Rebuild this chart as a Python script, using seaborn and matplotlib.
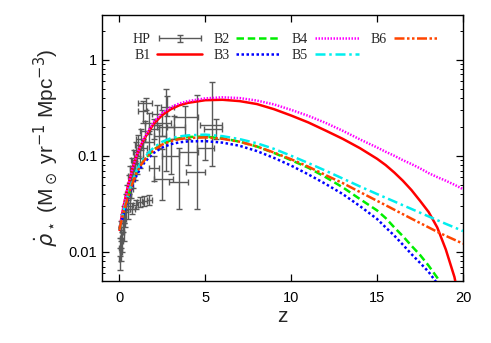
import numpy as np
import pandas as pd
import seaborn as sns
import matplotlib.pyplot as plt
from matplotlib.ticker import FixedLocator, FixedFormatter, LogLocator, NullFormatter
from matplotlib.legend_handler import HandlerErrorbar

# model curves
z_model = [0, 0.25, 0.5, 0.75, 1, 1.25, 1.5, 2, 2.5, 3, 3.5, 4, 5, 6, 7, 8, 9, 10,
           11, 12, 13, 14, 15, 15.5, 16, 16.5, 17, 17.5, 18, 18.5, 19, 19.5, 20]
b1 = [0.017, 0.03, 0.048, 0.072, 0.1, 0.128, 0.155, 0.215, 0.265, 0.305, 0.335, 0.355, 0.378, 0.382,
      0.37, 0.345, 0.305, 0.262, 0.222, 0.183, 0.15, 0.12, 0.093, 0.08, 0.067, 0.055, 0.044, 0.034,
      0.026, 0.018, 0.0106, 0.0055, 0.002]
b2 = [0.017, 0.026, 0.037, 0.051, 0.066, 0.08, 0.093, 0.116, 0.133, 0.145, 0.152, 0.157, 0.158, 0.152,
      0.14, 0.125, 0.107, 0.09, 0.075, 0.06, 0.047, 0.0355, 0.027, 0.0225, 0.018, 0.0146, 0.0116,
      0.0093, 0.0072, 0.0054, 0.0036, 0.002, 0.001]
b3 = [0.017, 0.025, 0.035, 0.048, 0.062, 0.075, 0.087, 0.107, 0.122, 0.132, 0.138, 0.141, 0.142, 0.137,
      0.127, 0.112, 0.095, 0.079, 0.064, 0.051, 0.04, 0.030, 0.022, 0.018, 0.0148, 0.0119, 0.0095,
      0.0077, 0.0062, 0.0047, 0.003, 0.0018, 0.001]
b4 = [0.017, 0.03, 0.048, 0.072, 0.1, 0.13, 0.16, 0.225, 0.28, 0.32, 0.35, 0.37, 0.395, 0.405,
      0.398, 0.375, 0.342, 0.3, 0.26, 0.22, 0.182, 0.148, 0.122, 0.11, 0.1, 0.09, 0.082, 0.074, 0.066,
      0.06, 0.055, 0.05, 0.045]
b5 = [0.017, 0.027, 0.039, 0.054, 0.07, 0.085, 0.098, 0.122, 0.14, 0.152, 0.159, 0.163, 0.166, 0.16,
      0.149, 0.135, 0.118, 0.1, 0.084, 0.07, 0.058, 0.048, 0.04, 0.0366, 0.0335, 0.0306, 0.028,
      0.0256, 0.0234, 0.0214, 0.0196, 0.018, 0.0165]
b6 = [0.017, 0.026, 0.037, 0.051, 0.066, 0.08, 0.092, 0.114, 0.131, 0.142, 0.149, 0.153, 0.155, 0.15,
      0.14, 0.125, 0.108, 0.092, 0.077, 0.063, 0.052, 0.042, 0.034, 0.0306, 0.0275, 0.0247, 0.0222,
      0.02, 0.018, 0.0162, 0.0147, 0.0134, 0.0122]

# HP compilation points
hp_z = [0.02, 0.05, 0.07, 0.1, 0.12, 0.15, 0.2, 0.25, 0.3, 0.35, 0.4, 0.45, 0.5, 0.55, 0.6, 0.65,
        0.7, 0.75, 0.8, 0.85, 0.9, 1.0, 1.05, 1.1, 1.2, 1.25, 1.35, 1.4, 1.5, 1.55, 1.7, 1.75, 2.0,
        2.2, 2.3, 2.5, 2.8, 0.95, 1.2, 1.45, 1.75, 0.75, 2.5, 3.5, 4.5, 3.2, 3.8, 4.0, 5.4, 5.0, 5.6,
        3.0, 2.0, 2.7]
hp_rho = [0.0085, 0.011, 0.014, 0.010, 0.017, 0.013, 0.02, 0.016, 0.025, 0.022, 0.032, 0.04, 0.028,
          0.05, 0.038, 0.062, 0.045, 0.075, 0.058, 0.09, 0.07, 0.11, 0.082, 0.13, 0.095, 0.15, 0.29,
          0.12, 0.18, 0.35, 0.14, 0.22, 0.19, 0.27, 0.16, 0.22, 0.32, 0.031, 0.033, 0.034, 0.035, 0.028,
          0.058, 0.053, 0.068, 0.2, 0.25, 0.11, 0.21, 0.12, 0.19, 0.1, 0.075, 0.2]
hp_rho_lo = [0.0065, 0.009, 0.011, 0.008, 0.014, 0.010, 0.016, 0.013, 0.02, 0.018, 0.026, 0.032, 0.022,
             0.04, 0.03, 0.05, 0.036, 0.06, 0.046, 0.07, 0.056, 0.085, 0.065, 0.1, 0.075, 0.115, 0.22,
             0.095, 0.14, 0.3, 0.11, 0.17, 0.15, 0.21, 0.12, 0.16, 0.26, 0.028, 0.029, 0.03, 0.031,
             0.025, 0.035, 0.028, 0.028, 0.15, 0.16, 0.08, 0.078, 0.09, 0.15, 0.065, 0.055, 0.07]
hp_rho_hi = [0.011, 0.014, 0.018, 0.013, 0.021, 0.016, 0.025, 0.02, 0.03, 0.027, 0.04, 0.05, 0.035,
             0.063, 0.048, 0.078, 0.057, 0.095, 0.073, 0.115, 0.088, 0.14, 0.1, 0.165, 0.12, 0.19, 0.37,
             0.15, 0.23, 0.4, 0.18, 0.28, 0.24, 0.34, 0.21, 0.3, 0.42, 0.035, 0.037, 0.038, 0.039, 0.032,
             0.117, 0.12, 0.43, 0.26, 0.33, 0.15, 0.58, 0.16, 0.24, 0.15, 0.1, 0.5]
hp_z_lo = [0.0, 0.0, 0.02, 0.05, 0.05, 0.1, 0.1, 0.2, 0.2, 0.3, 0.3, 0.35, 0.4, 0.45, 0.5, 0.5, 0.6,
           0.6, 0.7, 0.7, 0.8, 0.8, 0.9, 0.9, 1.0, 1.0, 1.1, 1.2, 1.2, 1.1, 1.4, 1.5, 1.7, 1.9, 2.0,
           2.0, 2.4, 0.8, 1.05, 1.3, 1.6, 0.6, 2.0, 2.9, 3.9, 2.8, 3.2, 3.5, 4.7, 4.5, 4.9, 2.5, 1.7, 2.2]
hp_z_hi = [0.05, 0.1, 0.12, 0.15, 0.2, 0.2, 0.3, 0.3, 0.4, 0.4, 0.5, 0.55, 0.6, 0.65, 0.7, 0.8, 0.8,
           0.9, 0.9, 1.0, 1.0, 1.2, 1.2, 1.3, 1.4, 1.5, 1.6, 1.6, 1.8, 1.9, 2.0, 2.0, 2.3, 2.5, 2.7,
           3.0, 3.2, 1.1, 1.35, 1.6, 1.9, 0.9, 3.1, 4.0, 5.0, 3.8, 4.6, 4.6, 6.0, 5.5, 6.0, 3.5, 2.3, 3.2]

sns.set_theme(style='white')
plt.rcParams['font.family'] = ['Liberation Sans', 'DejaVu Sans']
plt.rcParams['mathtext.fontset'] = 'dejavusans'

fig = plt.figure(figsize=(4.91, 3.43), dpi=100)
ax = fig.add_axes([0.208, 0.181, 0.735, 0.775])

hp = pd.DataFrame({'z': hp_z, 'rho': hp_rho})
yerr = [np.array(hp_rho) - np.array(hp_rho_lo), np.array(hp_rho_hi) - np.array(hp_rho)]
xerr = [np.array(hp_z) - np.array(hp_z_lo), np.array(hp_z_hi) - np.array(hp_z)]
hp_cont = ax.errorbar(hp['z'], hp['rho'], yerr=yerr, xerr=xerr, fmt='none', ecolor='0.35',
                      elinewidth=1, capsize=2.5, capthick=1, label='HP', zorder=2)

models = pd.DataFrame({'z': z_model, 'B1': b1, 'B2': b2, 'B3': b3, 'B4': b4, 'B5': b5, 'B6': b6})
styles = {
    'B1': ('#ff0000', '-'),
    'B2': ('#00ee00', (0, (3, 1.5))),
    'B3': ('#0000ff', (0, (1, 1))),
    'B4': ('#ff00ff', (0, (0.6, 0.6))),
    'B5': ('#00eeee', (0, (4, 1.5, 1, 1.5))),
    'B6': ('#ff4500', (0, (4, 1, 1, 1, 1, 1))),
}
for name, (col, ls) in styles.items():
    sns.lineplot(data=models, x='z', y=name, color=col, linestyle=ls, linewidth=1.8,
                 label=name, ax=ax, zorder=3)

ax.set_yscale('log')
ax.set_xlim(-1, 20)
ax.set_ylim(0.005, 2.9)
ax.xaxis.set_major_locator(FixedLocator([0, 5, 10, 15, 20]))
ax.yaxis.set_major_locator(FixedLocator([0.01, 0.1, 1]))
ax.yaxis.set_major_formatter(FixedFormatter(['0.01', '0.1', '1']))
ax.yaxis.set_minor_locator(LogLocator(base=10, subs=np.arange(2, 10)))
ax.yaxis.set_minor_formatter(NullFormatter())

ax.set_xlabel('z', fontsize=15, labelpad=2)
ax.set_ylabel(r'$\dot{\rho}_\star$ (M$_\odot$ yr$^{-1}$ Mpc$^{-3}$)', fontsize=15, labelpad=6)

handles, labels = ax.get_legend_handles_labels()
order = ['HP', 'B1', 'B2', 'B3', 'B4', 'B5', 'B6']
hmap = dict(zip(labels, handles))
ax.legend([hmap[k] for k in order], order, ncol=4, loc='upper left', bbox_to_anchor=(0.05, 0.98),
          frameon=False, markerfirst=False, prop={'family': 'Liberation Serif', 'size': 10},
          handlelength=3.2, columnspacing=0.8, handletextpad=0.5, labelspacing=0.2,
          handler_map={hp_cont: HandlerErrorbar(xerr_size=1.5, yerr_size=0.25)})

# inward ticks on all four sides
ax.tick_params(which='both', direction='in', top=True, right=True, bottom=True, left=True,
               color='black', labelcolor='black', labelsize=10.5)
ax.tick_params(which='major', length=5, width=0.9)
ax.tick_params(which='minor', length=2.5, width=0.7)
ax.tick_params(axis='x', pad=7)
for s in ax.spines.values():
    s.set_color('black')
    s.set_linewidth(1)

fig.savefig('out.png', dpi=100)
